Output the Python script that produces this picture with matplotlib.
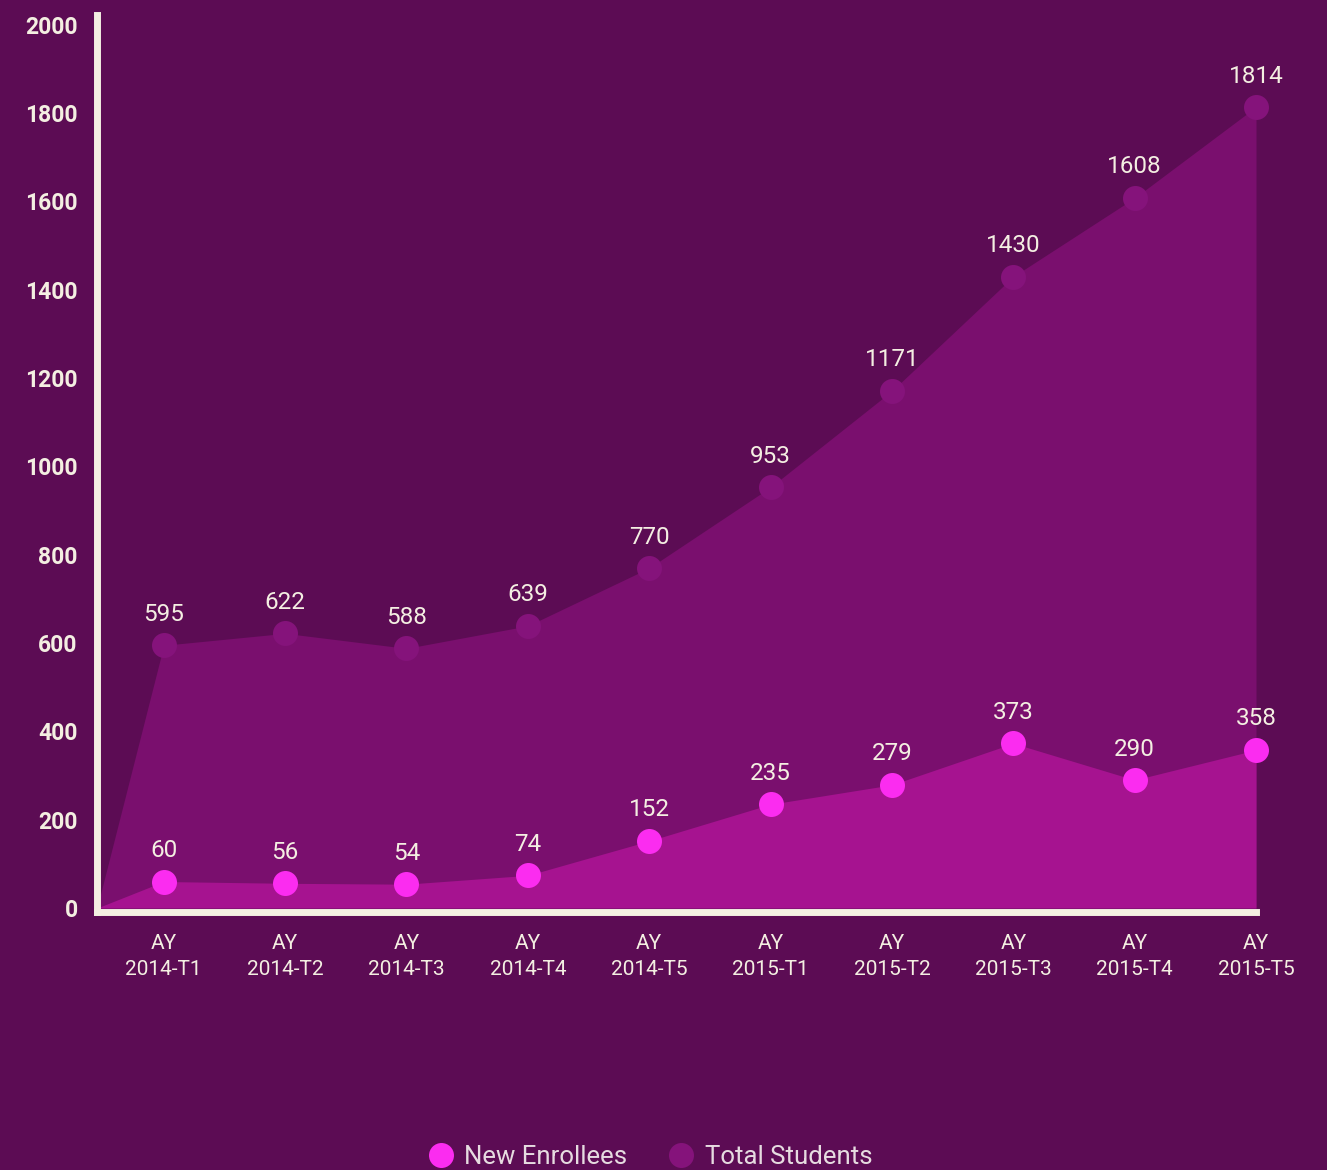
import matplotlib
matplotlib.use('Agg')
import matplotlib.pyplot as plt
import numpy as np
from matplotlib.lines import Line2D

# --- Data ---
terms = ['AY\n2014-T1', 'AY\n2014-T2', 'AY\n2014-T3', 'AY\n2014-T4', 'AY\n2014-T5',
         'AY\n2015-T1', 'AY\n2015-T2', 'AY\n2015-T3', 'AY\n2015-T4', 'AY\n2015-T5']
total_students = [595, 622, 588, 639, 770, 953, 1171, 1430, 1608, 1814]
new_enrollees = [60, 56, 54, 74, 152, 235, 279, 373, 290, 358]

# --- Style ---
bg = '#5c0c54'
c_total_fill = '#7a0f6e'
c_new_fill = '#a61390'
c_total_dot = '#85137b'
c_new_dot = '#fb2cf0'
cream = '#f4efe2'

plt.rcParams.update({'font.family': ['Roboto', 'DejaVu Sans']})

fig = plt.figure(figsize=(13.27, 11.70), dpi=100, facecolor=bg)
ax = fig.add_axes([0.0731, 0.2209, 0.9269, 0.7662])
ax.set_facecolor(bg)

x = np.arange(len(terms))
x0 = -0.55
xa = np.r_[x0, x]

ax.fill_between(xa, 0, np.r_[0, total_students], color=c_total_fill, lw=0, zorder=1)
ax.fill_between(xa, 0, np.r_[0, new_enrollees], color=c_new_fill, lw=0, zorder=2)
ax.plot(x, total_students, 'o', ms=18, color=c_total_dot, mec='none', zorder=3)
ax.plot(x, new_enrollees, 'o', ms=18, color=c_new_dot, mec='none', zorder=4)

for xi, v in zip(x, total_students):
    ax.annotate(str(v), (xi, v), xytext=(0, 14), textcoords='offset points',
                ha='center', va='bottom', fontsize=17.5, color=cream, zorder=5)
for xi, v in zip(x, new_enrollees):
    ax.annotate(str(v), (xi, v), xytext=(0, 14), textcoords='offset points',
                ha='center', va='bottom', fontsize=17.5, color=cream, zorder=5)

ax.set_xlim(x0, 9.585)
ax.set_ylim(-8, 2022)
ax.set_xticks(x)
ax.set_xticklabels(terms, fontsize=15, color=cream, linespacing=1.45)
ax.set_yticks(range(0, 2001, 200))
ax.set_yticklabels([str(v) for v in range(0, 2001, 200)], fontsize=16.5,
                   fontweight='bold', color=cream)
ax.tick_params(length=0, pad=14)
ax.tick_params(axis='x', pad=16)

for s in ['top', 'right']:
    ax.spines[s].set_visible(False)
for s in ['left', 'bottom']:
    ax.spines[s].set_color(cream)
    ax.spines[s].set_linewidth(5)
    ax.spines[s].set_capstyle('projecting')
ax.spines['bottom'].set_bounds(x0, x[-1])

handles = [
    Line2D([], [], ls='none', marker='o', ms=18, color=c_new_dot, mec='none',
           label='New Enrollees'),
    Line2D([], [], ls='none', marker='o', ms=18, color=c_total_dot, mec='none',
           label='Total Students'),
]
fig.legend(handles=handles, loc='lower center', bbox_to_anchor=(0.49, -0.019),
           ncol=2, frameon=False, labelcolor='#e6dbe0',
           handletextpad=0.4, columnspacing=1.6, handlelength=1.0,
           prop={'weight': 'normal', 'size': 18.5})

fig.savefig('out.png', dpi=100, facecolor=bg)
plt.close()
